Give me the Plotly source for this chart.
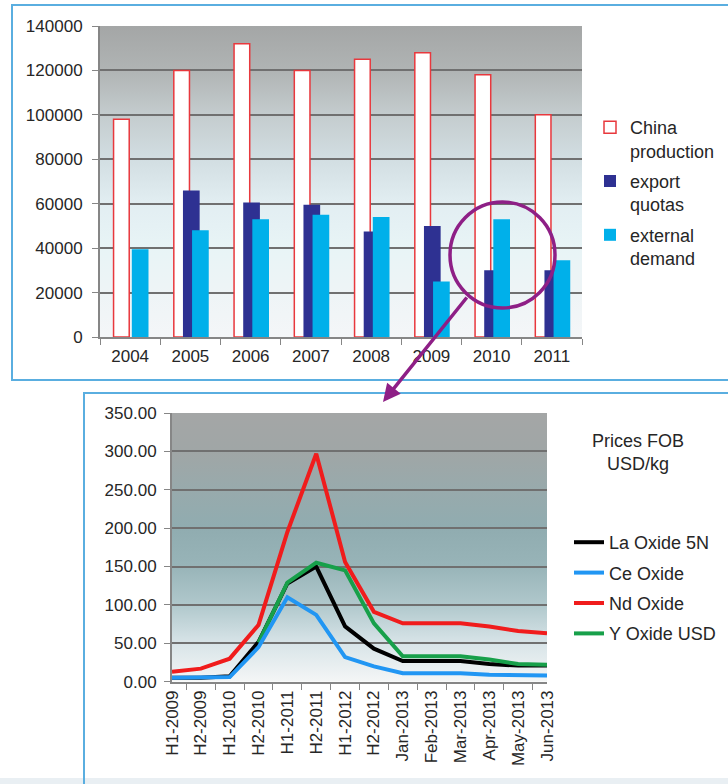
import base64
import plotly.graph_objects as go

# ---- Rare-earth supply: China production, export quotas, external demand (tonnes)
years = ["2004", "2005", "2006", "2007", "2008", "2009", "2010", "2011"]
china_production = [98000, 120000, 132000, 120000, 125000, 128000, 118000, 100000]
export_quotas = [None, 66000, 60500, 59500, 47500, 50000, 30000, 30000]
external_demand = [39500, 48000, 53000, 55000, 54000, 25000, 53000, 34500]

# ---- Oxide prices FOB, USD/kg
periods = ["H1-2009", "H2-2009", "H1-2010", "H2-2010", "H1-2011", "H2-2011",
           "H1-2012", "H2-2012", "Jan-2013", "Feb-2013", "Mar-2013", "Apr-2013",
           "May-2013", "Jun-2013"]
la_oxide = [5, 5, 7, 52, 128, 150, 72, 43, 27, 27, 27, 23, 21, 21]
ce_oxide = [5, 5, 6, 45, 110, 87, 32, 20, 11, 11, 11, 9, 8.5, 8]
nd_oxide = [13, 17, 30, 74, 195, 297, 156, 91, 76, 76, 76, 72, 66, 63]
y_oxide = [None, None, None, 51, 129, 155, 145, 76, 33, 33, 33, 29, 23, 22]

W, H = 728, 784
FONT = "Arial, 'Liberation Sans', sans-serif"
TXT = "#262626"


def px(x):
    return x / W


def py(y):
    return 1 - y / H


def gradient(stops):
    st = "".join(f'<stop offset="{o}" stop-color="{c}"/>' for o, c in stops)
    svg = ('<svg xmlns="http://www.w3.org/2000/svg" width="10" height="100" '
           'viewBox="0 0 10 100" preserveAspectRatio="none"><defs>'
           f'<linearGradient id="g" x1="0" y1="0" x2="0" y2="1">{st}</linearGradient>'
           '</defs><rect width="10" height="100" fill="url(#g)"/></svg>')
    return "data:image/svg+xml;base64," + base64.b64encode(svg.encode()).decode()


top_grad = gradient([(0, "#a4a6a6"), (0.143, "#b0b4b4"), (0.286, "#c4ccce"),
                     (0.429, "#d2dee2"), (0.571, "#e2eef2"), (0.714, "#e8f4f6"),
                     (0.857, "#eef4f6"), (1, "#f4f6f8")])
bot_grad = gradient([(0, "#a4a6a6"), (0.143, "#a0a6a6"), (0.286, "#98aaac"),
                     (0.429, "#90acb0"), (0.571, "#98b4b8"), (0.714, "#b0c8cc"),
                     (0.857, "#d8e4e8"), (1, "#f4f6f6")])

fig = go.Figure()

# Bars (overlapping clusters)
fig.add_trace(go.Bar(
    x=years, y=china_production, name="China<br>production",
    marker=dict(color="white", line=dict(color="#e8383d", width=1.5)),
    width=0.26, offset=-0.275, xaxis="x", yaxis="y",
    legend="legend", legendgroup="a"))
fig.add_trace(go.Bar(
    x=years, y=export_quotas, name="export<br>quotas",
    marker=dict(color="#2e3192", line=dict(width=0)),
    width=0.277, offset=-0.123, xaxis="x", yaxis="y",
    legend="legend", legendgroup="b"))
fig.add_trace(go.Bar(
    x=years, y=external_demand, name="external<br>demand",
    marker=dict(color="#00b0ea", line=dict(width=0)),
    width=0.277, offset=0.028, xaxis="x", yaxis="y",
    legend="legend", legendgroup="c"))

# Price lines (drawing order keeps green over black, blue over black)
lines = [
    ("La Oxide 5N", la_oxide, "#000000", 1),
    ("Y Oxide USD", y_oxide, "#17a04a", 4),
    ("Ce Oxide", ce_oxide, "#2196f3", 2),
    ("Nd Oxide", nd_oxide, "#f01c1c", 3),
]
for name, vals, col, rank in lines:
    fig.add_trace(go.Scatter(
        x=periods, y=vals, name=name, mode="lines",
        line=dict(color=col, width=4), xaxis="x2", yaxis="y2",
        legend="legend2", legendrank=rank, legendgroup=name,
        connectgaps=False))

axis_common = dict(showline=True, linecolor="#868686", linewidth=2,
                   ticks="outside", tickcolor="#868686", ticklen=6,
                   automargin=False,
                   tickfont=dict(family=FONT, size=17, color=TXT))

fig.update_layout(
    width=W, height=H, margin=dict(l=0, r=0, t=0, b=0, autoexpand=False),
    paper_bgcolor="white", plot_bgcolor="rgba(0,0,0,0)",
    barmode="overlay", showlegend=True,
    font=dict(family=FONT, color=TXT),
    xaxis=dict(domain=[px(100), px(582)], anchor="y", type="category",
               tickson="boundaries", showgrid=False, ticklabelstandoff=3,
               **axis_common),
    yaxis=dict(domain=[py(337), py(26)], anchor="x", range=[0, 140000],
               dtick=20000, tickformat="d", showgrid=True, gridcolor="#707070",
               gridwidth=1.5, zeroline=False, ticklabelstandoff=6,
               **axis_common),
    xaxis2=dict(domain=[px(172), px(547)], anchor="y2", type="category",
                tickson="boundaries", tickangle=-90, dtick=1, showgrid=False,
                **axis_common),
    yaxis2=dict(domain=[py(681.7), py(413)], anchor="x2", range=[0, 350],
                dtick=50, tickformat=".2f", showgrid=True, gridcolor="#707070",
                gridwidth=1.5, zeroline=False, ticklabelstandoff=4,
                **axis_common),
    legend=dict(x=px(590), y=py(109), xanchor="left", yanchor="top",
                valign="top", bgcolor="rgba(0,0,0,0)", tracegroupgap=4,
                font=dict(family=FONT, size=18, color=TXT)),
    legend2=dict(x=px(569), y=py(524), xanchor="left", yanchor="top",
                 bgcolor="rgba(0,0,0,0)", tracegroupgap=4,
                 font=dict(family=FONT, size=18, color=TXT)),
    images=[
        dict(source=top_grad, xref="x domain", yref="y domain", x=0, y=1,
             sizex=1, sizey=1, xanchor="left", yanchor="top",
             sizing="stretch", layer="below"),
        dict(source=bot_grad, xref="x2 domain", yref="y2 domain", x=0, y=1,
             sizex=1, sizey=1, xanchor="left", yanchor="top",
             sizing="stretch", layer="below"),
    ],
)

# Panel frames, bottom strip, highlight circle
fig.add_shape(type="rect", xref="paper", yref="paper",
              x0=px(12), x1=px(745), y0=py(380), y1=py(5),
              line=dict(color="#5aaee0", width=2), layer="below")
fig.add_shape(type="rect", xref="paper", yref="paper",
              x0=px(0), x1=px(740), y0=py(790), y1=py(778),
              line=dict(width=0), fillcolor="#e9eff3", layer="below")
fig.add_shape(type="rect", xref="paper", yref="paper",
              x0=px(84), x1=px(745), y0=py(800), y1=py(393),
              line=dict(color="#5aaee0", width=2), layer="below")
fig.add_shape(type="circle", xref="paper", yref="paper",
              x0=px(450), x1=px(555), y0=py(308), y1=py(202),
              line=dict(color="#8e1f86", width=3.5), layer="above")

# Arrow from the 2010 highlight down to the price chart
fig.add_annotation(xref="paper", yref="paper", x=px(383), y=py(402),
                   ax=85, ay=-106, text="", showarrow=True,
                   arrowhead=2, arrowsize=1, arrowwidth=3.5,
                   arrowcolor="#8e1f86")

# Legend heading for the price chart
fig.add_annotation(xref="paper", yref="paper", x=px(638), y=py(452),
                   xanchor="center", yanchor="middle",
                   text="Prices FOB<br>USD/kg", showarrow=False,
                   font=dict(family=FONT, size=18, color=TXT), align="center")

# Figure fills the page edge to edge
fig.write_html("out.html",
               post_script="document.body.style.margin='0';"
                           "document.body.style.overflow='hidden';")
